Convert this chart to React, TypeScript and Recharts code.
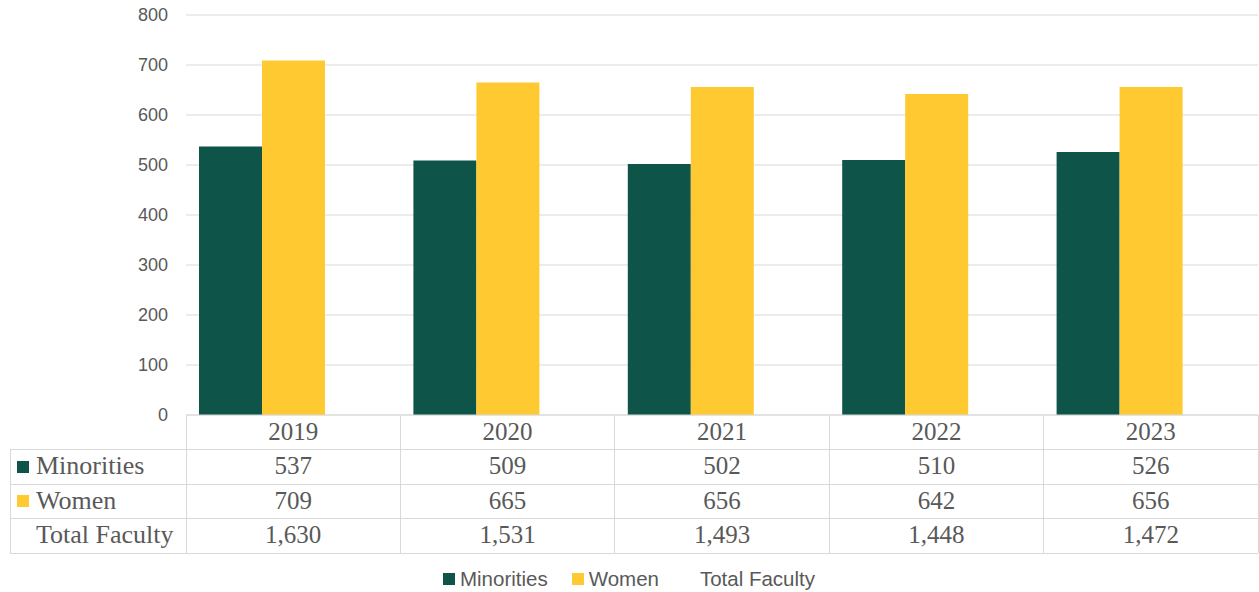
import { Bar, BarChart, CartesianGrid, Legend, XAxis, YAxis } from "recharts";

const years = ["2019", "2020", "2021", "2022", "2023"];
const minorities = [537, 509, 502, 510, 526];
const women = [709, 665, 656, 642, 656];
const totalFaculty = [1630, 1531, 1493, 1448, 1472];
const yTicks = [0, 100, 200, 300, 400, 500, 600, 700, 800];

const series = [
  { key: "minorities", label: "Minorities", color: "#0F5449", values: minorities },
  { key: "women", label: "Women", color: "#FFCA31", values: women },
  { key: "total", label: "Total Faculty", color: "none", values: totalFaculty },
];

const data = years.map((year, i) => ({
  year,
  minorities: minorities[i],
  women: women[i],
  total: totalFaculty[i],
}));

const W = 1259;
const H = 592;
const LEFT = 186;
const RIGHT = 1;
const TOP = 15;
const LEGEND_H = 26;
const PLOT_BOTTOM = 415;
const colW = (W - LEFT - RIGHT) / years.length;
const rowH = 34.5;
const tableLeft = 10;
const grey = "#595959";
const lineColor = "#d9d9d9";
const sans = "'Liberation Sans', Arial, sans-serif";
const serif = "'Liberation Serif', 'Times New Roman', serif";

const fmt = (v: number) => v.toLocaleString("en-US");

function TableTick(props: any) {
  const { x, y, index, payload } = props;
  const left = x - colW / 2;
  const right = x + colW / 2;
  const bottom = y + rowH * (series.length + 1);
  const textProps = { fontFamily: serif, fontSize: 25, fill: grey };
  return (
    <g shapeRendering="crispEdges">
      <text {...textProps} x={x} y={y + 25} textAnchor="middle">
        {payload.value}
      </text>
      {series.map((s, r) => (
        <text key={s.key} {...textProps} x={x} y={y + rowH * (r + 1) + 24.5} textAnchor="middle">
          {fmt(s.values[index])}
        </text>
      ))}
      {series.map((s, r) => (
        <line key={s.key} x1={left} x2={right} y1={y + rowH * (r + 1)} y2={y + rowH * (r + 1)} stroke={lineColor} />
      ))}
      <line x1={left} x2={right} y1={bottom} y2={bottom} stroke={lineColor} />
      <line x1={right} x2={right} y1={y} y2={bottom} stroke={lineColor} />
      {index === 0 && (
        <g>
          <line x1={left} x2={left} y1={y} y2={bottom} stroke={lineColor} />
          <line x1={tableLeft} x2={tableLeft} y1={y + rowH} y2={bottom} stroke={lineColor} />
          {series.map((s, r) => (
            <line key={s.key} x1={tableLeft} x2={left} y1={y + rowH * (r + 1)} y2={y + rowH * (r + 1)} stroke={lineColor} />
          ))}
          <line x1={tableLeft} x2={left} y1={bottom} y2={bottom} stroke={lineColor} />
          {series.map((s, r) => (
            <g key={s.key}>
              {s.color !== "none" && (
                <rect x={17} y={y + rowH * (r + 1) + 11} width={12} height={12} fill={s.color} />
              )}
              <text {...textProps} x={36} y={y + rowH * (r + 1) + 24.5} textAnchor="start" fontSize={26}>
                {s.label}
              </text>
            </g>
          ))}
        </g>
      )}
    </g>
  );
}

function LegendContent() {
  return (
    <div
      style={{
        display: "flex",
        justifyContent: "center",
        alignItems: "center",
        height: LEGEND_H,
        fontFamily: sans,
        fontSize: 20.5,
        color: grey,
      }}
    >
      {series.map((s) => (
        <div key={s.key} style={{ display: "flex", alignItems: "center", margin: "0 12px" }}>
          <span
            style={{
              display: "inline-block",
              width: 12,
              height: 12,
              marginRight: 5,
              background: s.color === "none" ? "transparent" : s.color,
            }}
          />
          {s.label}
        </div>
      ))}
    </div>
  );
}

export default function App() {
  return (
    <div style={{ position: "absolute", left: 0, top: 0, width: W, height: H, background: "#fff" }}>
      <BarChart
        width={W}
        height={H}
        data={data}
        margin={{ top: TOP, right: RIGHT, left: 0, bottom: 0 }}
        barCategoryGap={13}
        barGap={0}
      >
        <CartesianGrid vertical={false} stroke={lineColor} />
        <XAxis
          dataKey="year"
          height={H - PLOT_BOTTOM - LEGEND_H}
          axisLine={{ stroke: lineColor }}
          tickLine={false}
          tickSize={0}
          tickMargin={0}
          interval={0}
          tick={(p: any) => <TableTick {...p} />}
        />
        <YAxis
          width={LEFT}
          domain={[0, 800]}
          ticks={yTicks}
          allowDataOverflow
          axisLine={false}
          tickLine={false}
          tickSize={0}
          tickMargin={18}
          tick={{ fill: grey, fontFamily: sans, fontSize: 18 }}
        />
        <Legend verticalAlign="bottom" height={LEGEND_H} content={() => <LegendContent />} />
        {series.map((s) => (
          <Bar
            key={s.key}
            dataKey={s.key}
            name={s.label}
            fill={s.color}
            fillOpacity={s.color === "none" ? 0 : 1}
            isAnimationActive={false}
          />
        ))}
      </BarChart>
    </div>
  );
}
